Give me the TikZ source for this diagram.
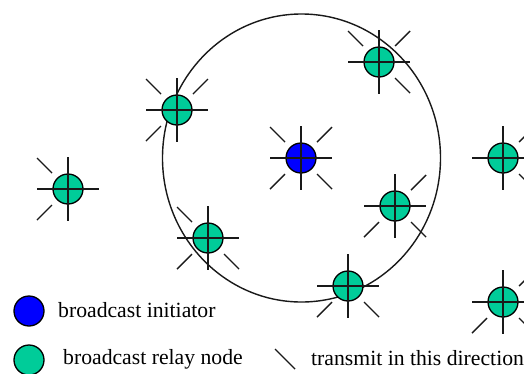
\documentclass[tikz,border=0pt]{standalone}
\usepackage{fontspec}
\setmainfont{Liberation Serif}
\definecolor{relaygreen}{RGB}{0,204,153}
\definecolor{initblue}{RGB}{0,0,255}
\tikzset{
  x=1pt, y=-1pt,
  bcirc/.style={circle, draw=black, line width=1.3pt, minimum size=30pt, inner sep=0pt},
  ray/.style={draw=black!90, line width=1.4pt},
  coverage/.style={draw=black!90, line width=1.4pt},
  legend/.style={anchor=base west, inner sep=0pt, font=\fontsize{21.7}{26}\selectfont}
}
% a station: circle, cross, and the diagonal rays listed as dx/dy pairs
\newcommand{\station}[4]{%
  \node[bcirc, fill=#3] (#1) at (#2) {};
  \draw[ray] (#1.center) +(-31,0) -- +(31,0);
  \draw[ray] (#1.center) +(0,-32) -- +(0,32);
  \foreach \dx/\dy in {#4}
    \draw[ray] (#1.center) +(16*\dx,16*\dy) -- +(31*\dx,31*\dy);
}
\begin{document}
\begin{tikzpicture}
\useasboundingbox (0,0) rectangle (524,373);
\clip (0,0) rectangle (524,373);
\fill[white] (0,0) rectangle (524,373);

% transmission range of the initiator
\draw[coverage] (301.5,158) ellipse [x radius=139, y radius=144];

\station{a}{68,189}{relaygreen}{-1/-1,-1/1}
\station{b}{177,110}{relaygreen}{-1/-1,1/-1,-1/1}
\station{c}{301,158}{initblue}{-1/-1,1/-1,-1/1,1/1}
\station{d}{379,62}{relaygreen}{-1/-1,1/-1,1/1}
\station{e}{503,158}{relaygreen}{1/-1,1/1}
\station{f}{395,206}{relaygreen}{1/-1,-1/1,1/1}
\station{g}{208,238}{relaygreen}{-1/-1,-1/1,1/1}
\station{h}{348,286}{relaygreen}{-1/1,1/1}
\station{i}{503,302}{relaygreen}{1/-1,-1/1,1/1}

% legend
\node[bcirc, fill=initblue] (lgi) at (29,311) {};
\node[legend] (lgit) at (58,317.5) {broadcast initiator};
\node[bcirc, fill=relaygreen] (lgr) at (29,360) {};
\node[legend] (lgrt) at (63,364) {broadcast relay node};
\coordinate (lgs) at (275,349);
\coordinate (lge) at (295,369);
\draw[ray] (lgs) -- (lge);
\node[legend] (lgtt) at (311,365) {transmit in this direction};
\end{tikzpicture}
\end{document}
